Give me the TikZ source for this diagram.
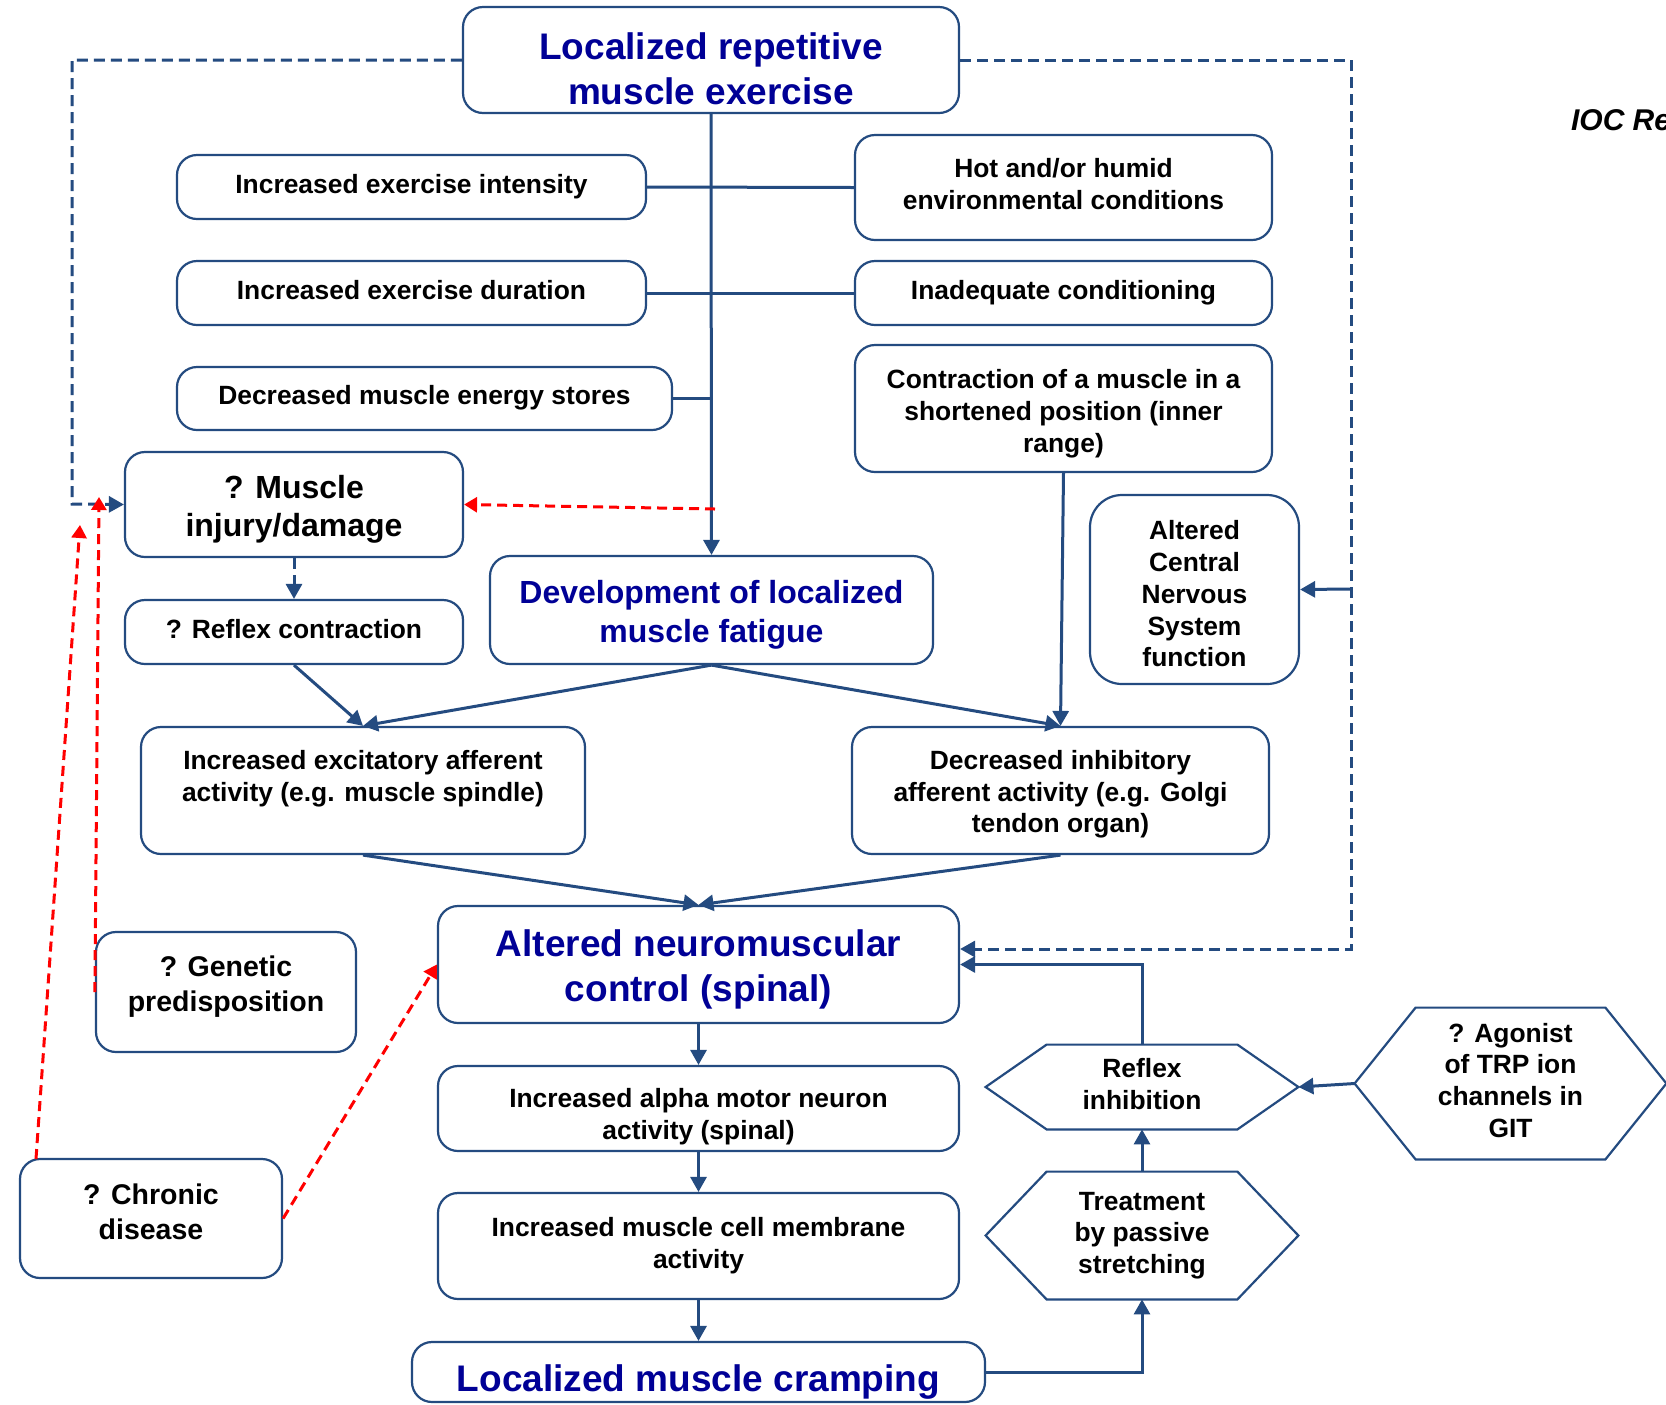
\documentclass[tikz,border=0pt]{standalone}
\usepackage{fontspec}
\setmainfont{Liberation Sans}
\usetikzlibrary{arrows.meta,calc}

\definecolor{lineblue}{RGB}{36,75,128}
\definecolor{textblue}{RGB}{0,0,150}
\definecolor{dashred}{RGB}{255,0,0}

% centred block of lines
\newcommand{\lns}[1]{\begin{tabular}{@{}c@{}}#1\end{tabular}}

% box given by its corners (pixel units):
% [text drop], style, name, x1, y1, x2, y2, text
\newcommand{\boxnode}[8][0pt]{%
  \pgfmathsetmacro\bxw{(#6-#4)*0.5}%
  \pgfmathsetmacro\bxh{(#7-#5)*0.5}%
  \pgfmathsetmacro\bxc{(#4+#6)/2}%
  \pgfmathsetmacro\byc{(#5+#7)/2}%
  \node[#2, minimum width=\bxw pt, minimum height=\bxh pt] (#3) at (\bxc,\byc)
    {\raisebox{-#1}[\height][\depth]{\lns{#8}}};}

% hexagon outline built on the anchors of a borderless node
\newcommand{\hexframe}[2]{%
  \draw[lineblue, line width=1.1pt, line join=miter]
    (#1.west) -- ([xshift=#2]#1.north west) -- ([xshift=-#2]#1.north east)
    -- (#1.east) -- ([xshift=-#2]#1.south east) -- ([xshift=#2]#1.south west) -- cycle;}

\begin{document}
\begin{tikzpicture}[x=0.5pt,y=-0.5pt,
  box/.style={draw=lineblue, line width=1.1pt, rounded corners=10pt, inner sep=0pt},
  norm/.style={font=\fontsize{13.2}{15.9}\selectfont\bfseries},
  mid/.style={font=\fontsize{16}{19.1}\selectfont\bfseries},
  side/.style={font=\fontsize{14.25}{17.6}\selectfont\bfseries},
  big/.style={font=\fontsize{18.5}{22.3}\selectfont\bfseries, text=textblue},
  midblue/.style={mid, text=textblue},
  hexnode/.style={inner sep=0pt, norm},
  conn/.style={draw=lineblue, line width=1.5pt},
  tip/.style={-{Triangle[length=7.5pt,width=8pt]}},
  bdash/.style={conn, dash pattern=on 5.5pt off 3pt},
  rdash/.style={draw=dashred, line width=1.5pt, dash pattern=on 5pt off 3pt,
                -{Triangle[length=6.5pt,width=7.5pt]}}
]
\fill[white] (0,0) rectangle (1666,1404);
\useasboundingbox (0,0) rectangle (1666,1404);

% ---------- boxes ----------
\boxnode[6.4pt]{box, big}{exercise}{463}{7}{959}{113}{Localized repetitive\\muscle exercise}
\boxnode{box, norm}{intensity}{177}{155}{646}{219}{Increased exercise intensity}
\boxnode{box, norm}{duration}{177}{261}{646}{325}{Increased exercise duration}
\boxnode{box, norm}{energy}{177}{367}{672}{430}{Decreased muscle energy stores}
\boxnode{box, norm}{hot}{855}{135}{1272}{240}{Hot and/or humid\\environmental conditions}
\boxnode{box, norm}{conditioning}{855}{261}{1272}{325}{Inadequate conditioning}
\boxnode[2.7pt]{box, norm}{inner}{855}{345}{1272}{472}{Contraction of a muscle in a\\shortened position (inner\\range)}
\boxnode[2.7pt]{box, mid}{injury}{125}{452}{463}{557}{? Muscle\\injury/damage}
\boxnode{box, norm}{reflexc}{125}{600}{463}{664}{? Reflex contraction}
\boxnode[2.7pt]{box, midblue}{fatigue}{490}{556}{933}{664}{Development of localized\\muscle fatigue}
\boxnode[3.7pt]{box, norm, rounded corners=16pt}{cns}{1090}{495}{1299}{684}{Altered\\Central\\Nervous\\System\\function}
\boxnode[2.1pt]{box, norm}{excit}{141}{727}{585}{854}{Increased excitatory afferent\\activity (e.g. muscle spindle)\\\mbox{}}
\boxnode[2.1pt]{box, norm}{inhib}{852}{727}{1269}{854}{Decreased inhibitory\\afferent activity (e.g. Golgi\\tendon organ)}
\boxnode[2.7pt]{box, big}{neuro}{438}{906}{959}{1023}{Altered neuromuscular\\control (spinal)}
\boxnode[-2.7pt]{box, side}{genetic}{96}{932}{356}{1052}{? Genetic\\predisposition}
\boxnode[-1.6pt]{box, side}{chronic}{20}{1159}{282}{1278}{? Chronic\\disease}
\boxnode[4.2pt]{box, norm}{alpha}{438}{1066}{959}{1151}{Increased alpha motor neuron\\activity (spinal)}
\boxnode{box, norm}{membrane}{438}{1193}{959}{1299}{Increased muscle cell membrane\\activity}
\boxnode[5.3pt]{box, big}{cramping}{412}{1342}{985}{1402}{Localized muscle cramping}

% ---------- hexagons ----------
\boxnode{hexnode}{rinhib}{986}{1045}{1298}{1129}{Reflex\\inhibition}
\boxnode{hexnode}{stretch}{986}{1172}{1298}{1299}{Treatment\\by passive\\stretching}
\boxnode{hexnode}{trp}{1355}{1008}{1666}{1159}{? Agonist\\of TRP ion\\channels in\\GIT}
\hexframe{rinhib}{30.5pt}
\hexframe{stretch}{30.5pt}
\hexframe{trp}{30.5pt}

\node[anchor=base west, font=\fontsize{15}{18}\selectfont\bfseries\itshape] (ioc) at (1564,130) {IOC Re};

% ---------- helper points ----------
\coordinate (lbend) at (72,504);
\coordinate (rtop) at (1351,60);
\coordinate (rbot) at (1351,949);
\coordinate (cnsjoin) at (1351,589);
\coordinate (fatred) at (715,509);
\coordinate (gtip) at (99,497);
\coordinate (ctip) at (80,525);
\coordinate (cstart) at (36,1159);

% ---------- solid connectors ----------
\draw[conn, tip] (exercise.south) -- (fatigue.north);
\draw[conn] (intensity.east) -- (hot.west);
\draw[conn] (duration.east) -- (conditioning.west);
\draw[conn] (energy.east) -- (energy.east -| exercise.south);
\draw[conn, tip] (reflexc.south) -- (excit.north);
\draw[conn, tip] (fatigue.south) -- (excit.north);
\draw[conn, tip] (fatigue.south) -- (inhib.north);
\draw[conn, tip] (inner.south) -- (inhib.north);
\draw[conn, tip] (excit.south) -- (neuro.north);
\draw[conn, tip] (inhib.south) -- (neuro.north);
\draw[conn, tip] (neuro.south) -- (alpha.north);
\draw[conn, tip] (alpha.south) -- (membrane.north);
\draw[conn, tip] (membrane.south) -- (cramping.north);
\draw[conn, tip] (cramping.east) -| (stretch.south);
\draw[conn, tip] (stretch.north) -- (rinhib.south);
\draw[conn, tip] (trp.west) -- (rinhib.east);
\draw[conn, tip] (rinhib.north) |- (neuro.east);
\draw[conn, tip] (cnsjoin) -- (cns.east);

% ---------- blue dashed feedback ----------
\draw[bdash, tip] (exercise.west) -| (lbend) -- (injury.west);
\draw[bdash, tip] (exercise.east) -- (rtop) -- (rbot) -- (rbot -| neuro.east);
\draw[bdash, tip] (injury.south) -- (reflexc.north);

% ---------- red dashed links ----------
\draw[rdash] (fatred) -- (injury.east);
\draw[rdash] (genetic.west) -- (gtip);
\draw[rdash] (cstart) -- (ctip);
\draw[rdash] (chronic.east) -- (neuro.west);
\end{tikzpicture}
\end{document}
